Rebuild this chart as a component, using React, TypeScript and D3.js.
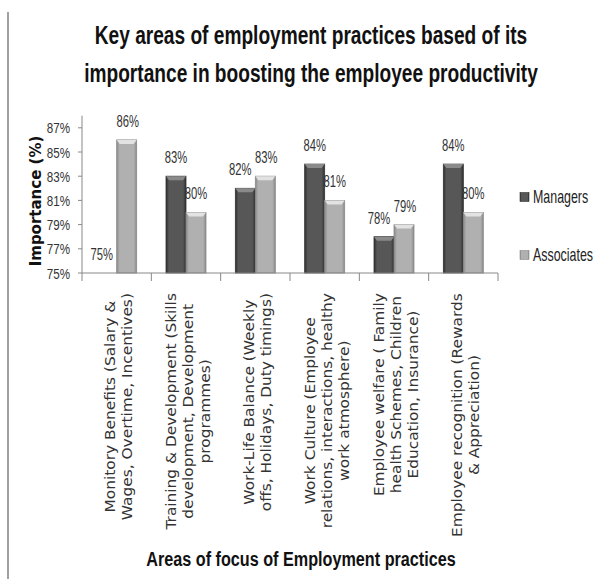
import React from "react";
import * as d3 from "d3";

const categories: string[][] = [
  ["Monitory Benefits (Salary &", "Wages, Overtime, Incentives)"],
  ["Training & Development (Skills", "development, Development", "programmes)"],
  ["Work-Life Balance (Weekly", "offs, Holidays, Duty timings)"],
  ["Work Culture (Employee", "relations, interactions, healthy", "work atmosphere)"],
  ["Employee welfare ( Family", "health Schemes, Children", "Education, Insurance)"],
  ["Employee recognition (Rewards", "& Appreciation)"],
];
const seriesNames = ["Managers", "Associates"];
const managers = [75, 83, 82, 84, 78, 84];
const associates = [86, 80, 83, 81, 79, 80];
const yTicks = [75, 77, 79, 81, 83, 85, 87];
const titleLines = [
  "Key areas of employment practices based of its",
  "importance in boosting the employee productivity",
];
const yTitle = "Importance (%)";
const xTitle = "Areas of focus of Employment practices";

const SANS = "'Liberation Sans', Arial, sans-serif";
const WIDE = "'DejaVu Sans', Verdana, sans-serif";

function measure(text: string, font: string): number {
  const c = document.createElement("canvas");
  const ctx = c.getContext("2d");
  if (!ctx) return text.length * 8;
  ctx.font = font;
  return ctx.measureText(text).width;
}

type NProps = {
  x: number;
  y: number;
  sx?: number;
  anchor?: "start" | "middle" | "end";
  size: number;
  bold?: boolean;
  fill?: string;
  dy?: string;
  children: React.ReactNode;
};

function NText({ x, y, sx = 0.77, anchor = "start", size, bold, fill = "#333", dy, children }: NProps) {
  return (
    <text
      transform={`translate(${x},${y}) scale(${sx},1)`}
      textAnchor={anchor}
      dy={dy}
      fontFamily={SANS}
      fontWeight={bold ? "bold" : "normal"}
      fontSize={size}
      fill={fill}
    >
      {children}
    </text>
  );
}

export default function App() {
  const W = 616, H = 579;
  const left = 82, right = 498, bottom = 273;
  const y = d3.scaleLinear().domain([75, 88]).range([bottom, bottom - 13 * 12.1]);
  const x0 = d3.scaleBand<number>().domain(d3.range(categories.length)).range([left, right]).padding(0);
  const barW = 20;
  const series = [managers, associates];
  const labelFontSize = 14;
  const labelStretch = 1.1;
  const labelFont = `${labelFontSize}px ${WIDE}`;

  const barColors = [
    { edge: "#2e2e2e", mid: "#575757", top: "#8a8a8a", stroke: "#333" },
    { edge: "#8a8a8a", mid: "#b0b0b0", top: "#e2e2e2", stroke: "#8a8a8a" },
  ];

  return (
    <svg width={W} height={H} style={{ position: "absolute", left: 0, top: 0, background: "#fff" }}>
      <defs>
        {barColors.map((c, i) => (
          <linearGradient key={i} id={`g${i}`} x1="0" x2="1" y1="0" y2="0">
            <stop offset="0" stopColor={c.edge} />
            <stop offset="0.15" stopColor={c.mid} />
            <stop offset="0.85" stopColor={c.mid} />
            <stop offset="1" stopColor={c.edge} />
          </linearGradient>
        ))}
      </defs>
      <line x1={8} x2={8} y1={12} y2={579} stroke="#a0a0a0" strokeWidth={2} />

      {titleLines.map((t, i) => (
        <NText key={i} x={311} y={44 + i * 38} sx={0.765} anchor="middle" bold size={25} fill="#111">
          {t}
        </NText>
      ))}

      {/* y axis */}
      <line x1={left} x2={left} y1={y(88)} y2={bottom} stroke="#888" />
      {yTicks.map((t) => (
        <g key={t}>
          <line x1={left - 4} x2={left} y1={y(t)} y2={y(t)} stroke="#888" />
          <NText x={70} y={y(t)} dy="0.36em" anchor="end" size={15.5} sx={0.75}>
            {t}%
          </NText>
        </g>
      ))}
      <text transform={`translate(41,${201}) rotate(-90)`} textAnchor="middle" fontFamily={WIDE} fontWeight="bold" fontSize={15} fill="#111">
        {yTitle}
      </text>

      {/* bars */}
      {categories.map((_, ci) => {
        const cx = x0(ci)! + x0.bandwidth() / 2;
        return series.map((s, si) => {
          const v = s[ci];
          const bx = cx - barW + si * barW;
          const top = y(v);
          const h = bottom - top;
          const c = barColors[si];
          const shift = si === 0 && managers[ci] < associates[ci] ? -5 : si === 1 && managers[ci] < associates[ci] ? 1 : 0;
          return (
            <g key={`${ci}-${si}`}>
              {h > 0 && (
                <>
                  <rect x={bx} y={top} width={barW} height={h} fill={`url(#g${si})`} stroke={c.stroke} strokeWidth={0.8} />
                  <path d={`M${bx},${top} L${bx + barW},${top} L${bx + barW - 3},${top + 4} L${bx + 3},${top + 4} Z`} fill={c.top} />
                </>
              )}
              <NText x={bx + barW / 2 + shift} y={top - 19} dy="0.35em" anchor="middle" size={17} sx={0.66}>
                {v}%
              </NText>
            </g>
          );
        });
      })}

      {/* x axis */}
      <line x1={left} x2={right} y1={bottom} y2={bottom} stroke="#888" />
      {d3.range(categories.length + 1).map((i) => {
        const tx = i < categories.length ? x0(i)! : right;
        return <line key={i} x1={tx} x2={tx} y1={bottom} y2={bottom + 8} stroke="#888" />;
      })}
      {categories.map((lines, ci) => {
        const cx = x0(ci)! + x0.bandwidth() / 2 + 2;
        const maxW = d3.max(lines, (l) => measure(l, labelFont))! * labelStretch;
        const cy = 293 + maxW / 2;
        const n = lines.length;
        return lines.map((l, li) => (
          <text
            key={`${ci}-${li}`}
            transform={`translate(${cx + (li - (n - 1) / 2) * 17},${cy}) rotate(-90) scale(${labelStretch},1)`}
            textAnchor="middle"
            dominantBaseline="central"
            fontFamily={WIDE}
            fontSize={labelFontSize}
            fill="#333"
          >
            {l}
          </text>
        ));
      })}
      <NText x={301} y={566} sx={0.81} anchor="middle" bold size={20} fill="#111">
        {xTitle}
      </NText>

      {/* legend */}
      {seriesNames.map((name, i) => (
        <g key={name} transform={`translate(520,${197 + i * 58})`}>
          <rect x={0} y={-4.5} width={9} height={9} fill={`url(#g${i})`} stroke={barColors[i].stroke} strokeWidth={0.6} />
          <NText x={13} y={0} dy="0.36em" size={18} sx={0.69} fill="#222">
            {name}
          </NText>
        </g>
      ))}
    </svg>
  );
}
